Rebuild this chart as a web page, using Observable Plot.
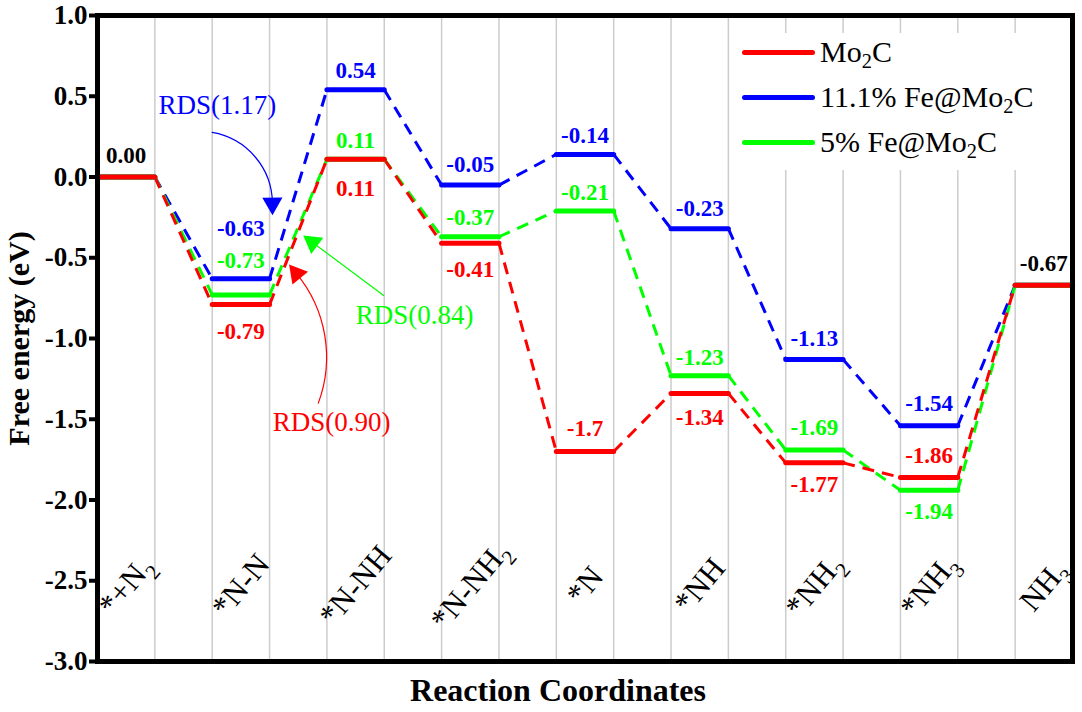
<!DOCTYPE html>
<html>
<head>
<meta charset="utf-8">
<script src="https://cdn.jsdelivr.net/npm/d3@7"></script>
<script src="https://cdn.jsdelivr.net/npm/@observablehq/plot@0.6"></script>
<style>
  body { margin: 0; background: #fff; }
  #wrap { position: relative; width: 1082px; height: 712px; font-family: 'Liberation Serif', 'Times New Roman', serif; }
  #legend { position: absolute; left: 735px; top: 33px; width: 333px; height: 137px; background: #fff; }
  .item { position: absolute; left: 7px; height: 40px; display: flex; align-items: center; white-space: nowrap; }
  .sw { width: 73px; height: 5px; border-radius: 2.5px; margin-right: 5px; }
  .lab { font-size: 30px; line-height: 1; color: #000; }
  .lab sub { font-size: 68%; vertical-align: -0.28em; line-height: 0; }
</style>
</head>
<body>
<div id="wrap"></div>
<script>
// ---------- data ----------
const states = ["*+N₂", "*N-N", "*N-NH", "*N-NH₂", "*N", "*NH", "*NH₂", "*NH₃", "NH₃"];

const seriesNames = ["11.1% Fe@Mo₂C", "5% Fe@Mo₂C", "Mo₂C"];
const seriesColors = ["#0000ff", "#00ff00", "#ff0000"];

const fe111 = [0.00, -0.63, 0.54, -0.05, 0.14, -0.32, -1.13, -1.54, -0.67];
const fe5   = [0.00, -0.73, 0.11, -0.37, -0.21, -1.23, -1.69, -1.94, -0.67];
const mo2c  = [0.00, -0.79, 0.11, -0.41, -1.70, -1.34, -1.77, -1.86, -0.67];

const fe111Labels = ["", "-0.63", "0.54", "-0.05", "-0.14", "-0.23", "-1.13", "-1.54", ""];
const fe5Labels   = ["", "-0.73", "0.11", "-0.37", "-0.21", "-1.23", "-1.69", "-1.94", ""];
const mo2cLabels  = ["", "-0.79", "0.11", "-0.41", "-1.7", "-1.34", "-1.77", "-1.86", ""];
const commonLabels = ["0.00", "", "", "", "", "", "", "", "-0.67"];

// label offsets from their level, in pixels (negative = above)
const fe111LabelDy = [0, -50, -19, -20, -19, -20, -21, -22, 0];
const fe5LabelDy   = [0, -34, -19, -19, -18, -18, -22, 21, 0];
const mo2cLabelDy  = [0, 27, 29, 26, -23, 24, 22, -22, 0];
const commonLabelDy = [-21, 0, 0, 0, 0, 0, 0, 0, -22];

const yTicks = [1.0, 0.5, 0.0, -0.5, -1.0, -1.5, -2.0, -2.5, -3.0];

// rate-determining-step annotations (data units)
const rdsText   = ["RDS(1.17)", "RDS(0.84)", "RDS(0.90)"];
const rdsColor  = ["#0000ff", "#00ff00", "#ff0000"];
const rdsTextX  = [2.09, 5.53, 4.08];
const rdsTextY  = [0.443, -0.858, -1.52];
const rdsFromX  = [2.00, 4.99, 3.85];
const rdsFromY  = [0.276, -0.734, -1.40];
const rdsToX    = [3.05, 3.75, 3.47];
const rdsToY    = [-0.164, -0.405, -0.598];
const rdsBend   = [40, 0, -30];

// ---------- build ----------
const W = 1082, H = 712, ML = 97, MR = 10, MT = 15, MB = 51;
const X = d3.scaleLinear([0, 17], [ML, W - MR]);
const Y = d3.scaleLinear([-3, 1], [H - MB, MT]);

const values = [fe111, fe5, mo2c];
const labels = [fe111Labels, fe5Labels, mo2cLabels];
const labelDy = [fe111LabelDy, fe5LabelDy, mo2cLabelDy];

const levels = [], links = [], valueLabels = [];
values.forEach((vals, s) => {
  vals.forEach((v, i) => {
    levels.push({s, x1: 2 * i, x2: 2 * i + 1, y: v, color: seriesColors[s]});
    if (i < vals.length - 1)
      links.push({s, x1: 2 * i + 1, y1: v, x2: 2 * i + 2, y2: vals[i + 1], color: seriesColors[s]});
    if (labels[s][i])
      valueLabels.push({x: 2 * i + 0.5, y: Y.invert(Y(v) + labelDy[s][i]), text: labels[s][i], color: seriesColors[s]});
  });
});
commonLabels.forEach((t, i) => {
  if (t) valueLabels.push({x: 2 * i + 0.5, y: Y.invert(Y(mo2c[i]) + commonLabelDy[i]), text: t, color: "#000"});
});

const cats = states.map((name, i) => ({name, x: 2 * i + 0.5, y: -2.53}));

const rds = rdsText.map((t, i) => {
  const px1 = X(rdsFromX[i]), py1 = Y(rdsFromY[i]), px2 = X(rdsToX[i]), py2 = Y(rdsToY[i]);
  const chord = Math.atan2(py2 - py1, px2 - px1) * 180 / Math.PI;
  return {text: t, color: rdsColor[i], tx: rdsTextX[i], ty: rdsTextY[i],
          x1: rdsFromX[i], y1: rdsFromY[i], x2: rdsToX[i], y2: rdsToY[i],
          bend: rdsBend[i], rot: chord + rdsBend[i] + 90};
});

const font = "'Liberation Serif', 'Times New Roman', serif";

const plot = Plot.plot({
  width: W, height: H,
  marginLeft: ML, marginRight: MR, marginTop: MT, marginBottom: MB,
  x: {domain: [0, 17], axis: null},
  y: {domain: [-3, 1], axis: null},
  color: {type: "identity"},
  style: {fontFamily: font, background: "#fff", color: "#000"},
  marks: [
    Plot.ruleX(d3.range(1, 17), {stroke: "#cccccc", strokeWidth: 1.5}),
    // connectors
    ...[0, 1, 2].map(s => Plot.link(links.filter(d => d.s === s), {
      x1: "x1", y1: "y1", x2: "x2", y2: "y2", stroke: "color",
      strokeWidth: 3, strokeDasharray: "12,8"
    })),
    // levels
    ...[0, 1, 2].map(s => Plot.link(levels.filter(d => d.s === s), {
      x1: "x1", x2: "x2", y1: "y", y2: "y", stroke: "color",
      strokeWidth: 5, strokeLinecap: "round"
    })),
    // value labels
    Plot.text(valueLabels, {x: "x", y: "y", text: "text", fill: "color",
      fontSize: 23, fontWeight: "bold"}),
    // category labels
    Plot.text(cats, {x: "x", y: "y", text: "name", rotate: -50,
      fontSize: 31, fill: "#000"}),
    // RDS annotations
    ...rds.map(d => Plot.arrow([d], {x1: "x1", y1: "y1", x2: "x2", y2: "y2",
      bend: d.bend, stroke: d.color, strokeWidth: 1.2, headLength: 0})),
    Plot.dot(rds, {x: "x2", y: "y2", symbol: "triangle", r: 7.5, rotate: "rot",
      fill: "color", stroke: "none"}),
    Plot.text(rds, {x: "tx", y: "ty", text: "text", fill: "color", fontSize: 27}),
    // axes
    Plot.axisY(yTicks, {tickFormat: d => d.toFixed(1), tickSize: 8, tickPadding: 2,
      fontSize: 27, fontWeight: "bold", strokeWidth: 4, label: null}),
    Plot.text(["Free energy (eV)"], {frameAnchor: "left", rotate: -90, dx: -78,
      textAnchor: "middle", lineAnchor: "middle", fontSize: 30, fontWeight: "bold"}),
    Plot.text(["Reaction Coordinates"], {frameAnchor: "bottom", dy: 29, dx: -27,
      textAnchor: "middle", lineAnchor: "middle", fontSize: 32, fontWeight: "bold"}),
    Plot.frame({stroke: "#000", strokeWidth: 5})
  ]
});

const wrap = document.getElementById("wrap");
wrap.appendChild(plot);

// turn Unicode subscript digits into real SVG subscripts
function subscriptify(root) {
  const ns = "http://www.w3.org/2000/svg";
  root.querySelectorAll("text").forEach(t => {
    const s = t.textContent;
    if (!/[₂₃]/.test(s)) return;
    const fs = parseFloat(getComputedStyle(t).fontSize) || 16;
    const shift = fs * 0.28;
    t.textContent = "";
    let inSub = false;
    s.split(/([₂₃]+)/).forEach(part => {
      if (!part) return;
      const isSub = /[₂₃]/.test(part);
      const sp = document.createElementNS(ns, "tspan");
      sp.textContent = isSub ? part.replace(/₂/g, "2").replace(/₃/g, "3") : part;
      if (isSub) { sp.setAttribute("font-size", (fs * 0.68).toFixed(1)); sp.setAttribute("dy", shift.toFixed(1)); inSub = true; }
      else if (inSub) { sp.setAttribute("dy", (-shift).toFixed(1)); inSub = false; }
      t.appendChild(sp);
    });
  });
}
subscriptify(plot);

// legend (HTML overlay, inside the frame like the original)
const legend = document.createElement("div");
legend.id = "legend";
const legendOrder = [2, 0, 1];
legendOrder.forEach((s, k) => {
  const item = document.createElement("div");
  item.className = "item";
  item.style.top = (19 + 45 * k - 20) + "px";
  const sw = document.createElement("div");
  sw.className = "sw";
  sw.style.background = seriesColors[s];
  const lab = document.createElement("span");
  lab.className = "lab";
  lab.innerHTML = seriesNames[s].replace(/₂/g, "<sub>2</sub>");
  item.appendChild(sw); item.appendChild(lab);
  legend.appendChild(item);
});
wrap.appendChild(legend);
</script>
</body>
</html>
